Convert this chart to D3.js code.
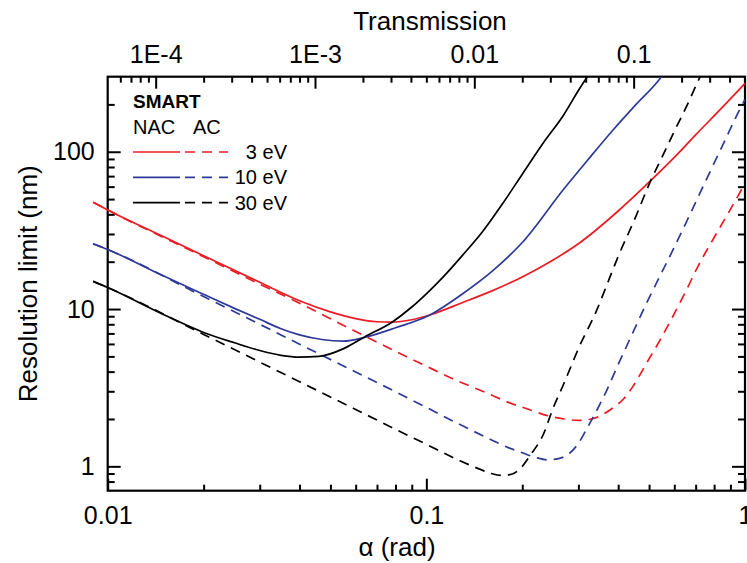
<!DOCTYPE html>
<html><head><meta charset="utf-8">
<script src="https://cdn.jsdelivr.net/npm/d3@7"></script>
<style>
body{margin:0;background:#fff}
text{font-family:"Liberation Sans",Arial,Helvetica,sans-serif;fill:#000}
</style>
</head><body>
<svg id="chart" width="747" height="563"></svg>
<script>
// ---- data: [alpha (rad), resolution limit (nm)] ----
const nac3 = [[0.009,47.8],[0.01,42.7],[0.015,28.8],[0.02,21.8],[0.03,14.8],[0.04,11.3],[0.05,9.6],[0.06,8.7],[0.07,8.3],[0.078,8.25],[0.09,8.55],[0.103,9.2],[0.13,11.0],[0.16,13.0],[0.2,16.0],[0.25,20.5],[0.3,26],[0.4,42],[0.5,64],[0.6,92],[0.7,128],[0.85,192],[1.0,272]];
const ac3 = [[0.009,47.8],[0.01,42.7],[0.02,21.5],[0.03,14.4],[0.04,10.9],[0.06,7.2],[0.09,4.8],[0.1,4.33],[0.125,3.5],[0.154,2.94],[0.18,2.56],[0.21,2.3],[0.24,2.1],[0.27,2.0],[0.3,1.96],[0.33,2.0],[0.36,2.15],[0.39,2.4],[0.415,2.67],[0.444,3.2],[0.49,4.5],[0.54,6.3],[0.594,9.0],[0.65,12.8],[0.71,18.5],[0.8,28.5],[0.9,43],[1.0,63]];
const nac10 = [[0.009,26.0],[0.01,23.9],[0.015,16.2],[0.02,12.4],[0.025,10.1],[0.03,8.6],[0.035,7.5],[0.04,6.85],[0.047,6.4],[0.055,6.25],[0.064,6.6],[0.08,7.6],[0.103,9.2],[0.13,12.5],[0.162,17.6],[0.2,26.5],[0.27,58],[0.32,88],[0.386,138],[0.45,195],[0.54,290],[0.56,320]];
const ac10 = [[0.009,26.0],[0.01,23.9],[0.02,12.0],[0.03,8.0],[0.04,5.98],[0.06,3.98],[0.08,2.98],[0.1,2.37],[0.125,1.88],[0.154,1.53],[0.18,1.32],[0.2,1.22],[0.22,1.14],[0.24,1.1],[0.26,1.12],[0.28,1.2],[0.3,1.4],[0.318,1.72],[0.34,2.2],[0.367,3.0],[0.405,4.7],[0.425,5.8],[0.49,10.8],[0.555,18],[0.58,21.5],[0.66,37],[0.76,68],[0.86,115],[0.95,176],[1.0,215]];
const nac30 = [[0.009,15.0],[0.01,13.7],[0.015,9.2],[0.02,7.1],[0.025,6.1],[0.03,5.45],[0.035,5.08],[0.04,4.95],[0.046,5.0],[0.055,5.6],[0.064,6.65],[0.078,8.25],[0.09,10.3],[0.1,12.5],[0.113,16.0],[0.13,22],[0.15,31],[0.175,48],[0.2,72],[0.233,114],[0.27,172],[0.3,245],[0.33,330]];
const ac30 = [[0.009,15.0],[0.01,13.7],[0.02,6.9],[0.03,4.6],[0.04,3.45],[0.06,2.3],[0.08,1.72],[0.1,1.38],[0.1275,1.085],[0.147,0.96],[0.16,0.9],[0.172,0.875],[0.185,0.89],[0.2,1.0],[0.2115,1.17],[0.233,1.6],[0.25,2.35],[0.27,3.35],[0.29,4.75],[0.3,5.6],[0.34,9.5],[0.377,16],[0.4,21.6],[0.45,37],[0.5,62],[0.55,93],[0.6,135],[0.66,200],[0.72,295],[0.75,350]];

const seriesNames = ["3 eV","10 eV","30 eV"];
const seriesColors = ["#ed1c24","#2e3a9a","#000000"];

const xTicks = [0.01,0.1,1];
const xTickLabels = ["0.01","0.1","1"];
const yTicks = [1,10,100];
const yTickLabels = ["1","10","100"];
const topTicks = [1e-4,1e-3,0.01,0.1];
const topTickLabels = ["1E-4","1E-3","0.01","0.1"];

// ---- layout ----
const W = 747, H = 563;
const m = {l:107.7, r:745, t:76.7, b:490.7};
const svg = d3.select("#chart");

const x = d3.scaleLog().domain([0.01,1]).range([m.l,m.r]);
const y = d3.scaleLog().domain([0.7,300]).range([m.b,m.t]);
// transmission = alpha^2/2
const xt = d3.scaleLog().domain([0.01*0.01/2, 1/2]).range([m.l,m.r]);

function minorsFor(domain){
  const out=[];
  const lo=domain[0], hi=domain[1];
  for(let e=-6;e<=3;e++){
    for(let k=2;k<=9;k++){
      const v=k*Math.pow(10,e);
      if(v>lo*1.0001 && v<hi*0.9999) out.push(v);
    }
  }
  return out;
}

const fsTick = 25, fsTitle = 26;
const majLen = 12, minLen = 6;

// clip
svg.append("defs").append("clipPath").attr("id","clip")
  .append("rect").attr("x",80).attr("y",m.t).attr("width",m.r-80).attr("height",m.b-m.t);

// bottom axis
const gB = svg.append("g").attr("transform",`translate(0,${m.b})`);
gB.call(d3.axisBottom(x).tickValues(xTicks).tickFormat((d,i)=>xTickLabels[i]).tickSize(-majLen).tickPadding(16));
gB.append("g").call(d3.axisBottom(x).tickValues(minorsFor(x.domain())).tickFormat("").tickSize(-minLen));
// top axis
const gT = svg.append("g").attr("transform",`translate(0,${m.t})`);
gT.call(d3.axisTop(xt).tickValues(topTicks).tickFormat((d,i)=>topTickLabels[i]).tickSize(-majLen).tickPadding(14));
gT.append("g").call(d3.axisTop(xt).tickValues(minorsFor(xt.domain())).tickFormat("").tickSize(-minLen));
// left axis
const gL = svg.append("g").attr("transform",`translate(${m.l},0)`);
gL.call(d3.axisLeft(y).tickValues(yTicks).tickFormat((d,i)=>yTickLabels[i]).tickSize(-13).tickPadding(13));
gL.append("g").call(d3.axisLeft(y).tickValues(minorsFor(y.domain())).tickFormat("").tickSize(-7));
// right axis
const gR = svg.append("g").attr("transform",`translate(${m.r},0)`);
gR.call(d3.axisRight(y).tickValues(yTicks).tickFormat("").tickSize(-13));
gR.append("g").call(d3.axisRight(y).tickValues(minorsFor(y.domain())).tickFormat("").tickSize(-7));

svg.selectAll(".domain").remove();
svg.selectAll(".tick line").attr("stroke","#000").attr("stroke-width",2);
svg.selectAll(".tick text").attr("font-size",fsTick).attr("font-family","Liberation Sans, Arial, sans-serif").attr("fill","#000");

// frame
svg.append("rect").attr("x",m.l).attr("y",m.t).attr("width",m.r-m.l).attr("height",m.b-m.t)
  .attr("fill","none").attr("stroke","#000").attr("stroke-width",2.2);

// curves
const line = d3.line().x(d=>x(d[0])).y(d=>y(d[1])).curve(d3.curveMonotoneX);
const curves = [
  {data:nac3, c:0, dash:null},{data:ac3, c:0, dash:"10,7"},
  {data:nac10,c:1, dash:null},{data:ac10,c:1, dash:"10,7"},
  {data:nac30,c:2, dash:null},{data:ac30,c:2, dash:"10,7"}
];
const gC = svg.append("g").attr("clip-path","url(#clip)");
curves.forEach(s=>{
  gC.append("path").attr("d",line(s.data)).attr("fill","none")
    .attr("stroke",seriesColors[s.c]).attr("stroke-width",1.7)
    .attr("stroke-dasharray",s.dash);
});

// titles
svg.append("text").attr("x",430).attr("y",30).attr("text-anchor","middle").attr("font-size",fsTitle).text("Transmission");
svg.append("text").attr("x",397).attr("y",556).attr("text-anchor","middle").attr("font-size",fsTitle).text("α (rad)");
svg.append("text").attr("transform",`translate(37,${(m.t+m.b)/2}) rotate(-90)`).attr("text-anchor","middle").attr("font-size",fsTitle).text("Resolution limit (nm)");

// legend
const lg = svg.append("g");
lg.append("text").attr("x",133).attr("y",108).attr("font-size",19).attr("font-weight","bold").text("SMART");
lg.append("text").attr("x",133).attr("y",134).attr("font-size",20).text("NAC");
lg.append("text").attr("x",193).attr("y",134).attr("font-size",20).text("AC");
seriesNames.forEach((nm,i)=>{
  const yy = 152 + i*25.3;
  lg.append("line").attr("x1",133).attr("x2",180).attr("y1",yy).attr("y2",yy)
    .attr("stroke",seriesColors[i]).attr("stroke-width",1.7);
  lg.append("line").attr("x1",185).attr("x2",228).attr("y1",yy).attr("y2",yy)
    .attr("stroke",seriesColors[i]).attr("stroke-width",1.7).attr("stroke-dasharray","10,7");
  lg.append("text").attr("x",287).attr("y",yy+7).attr("text-anchor","end").attr("font-size",20).text(nm);
});
</script>
</body></html>
